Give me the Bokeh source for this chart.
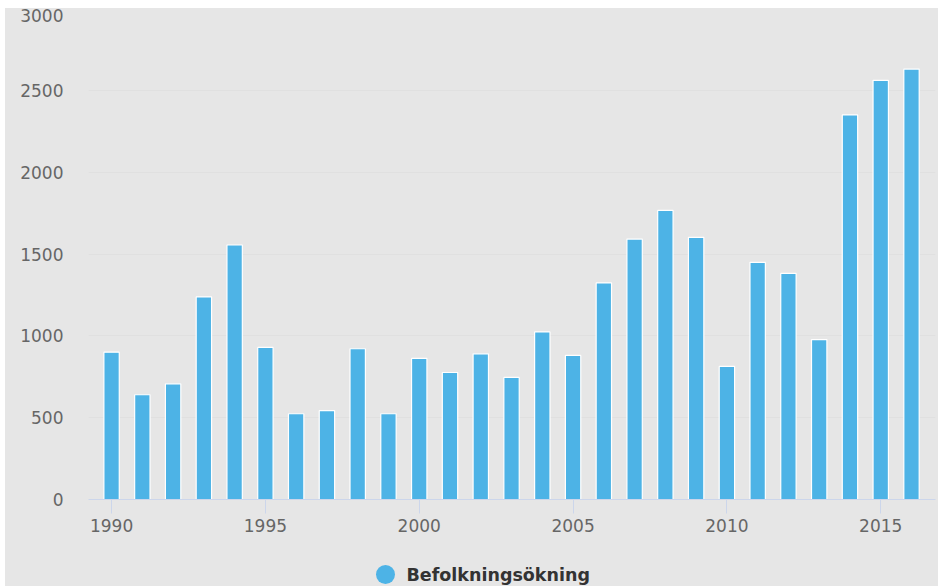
from bokeh.plotting import figure
from bokeh.models import ColumnDataSource, FixedTicker, Range1d
from bokeh.layouts import column
from bokeh.core.properties import value
from bokeh.embed import file_html
from bokeh.resources import INLINE

years = list(range(1990, 2017))
values = [900, 640, 707, 1238, 1555, 929, 524, 543, 921, 524,
          862, 776, 890, 746, 1024, 880, 1323, 1591, 1766, 1602,
          813, 1449, 1382, 977, 2350, 2561, 2630]
series_name = "Befolkningsökning"
y_ticks = [0, 500, 1000, 1500, 2000, 2500, 3000]
x_ticks = [1990, 1995, 2000, 2005, 2010, 2015]

BG = "#e6e6e6"
BAR = "#4db3e6"
W = 933
LEFT = 83
RIGHT = 3

p = figure(width=W, height=535, output_backend="svg", toolbar_location=None,
           x_range=Range1d(1989.25, 2016.78), y_range=Range1d(0, 3000),
           min_border_left=LEFT, min_border_right=RIGHT, min_border_top=0, min_border_bottom=44)
p.background_fill_color = None
p.border_fill_color = None
p.outline_line_color = None

src = ColumnDataSource(dict(x=years, top=values))
p.vbar(x="x", top="top", width=0.5, source=src, fill_color=BAR,
       line_color="white", line_width=1.2)

p.xgrid.grid_line_color = None
p.ygrid.grid_line_color = "#e0e0e0"
p.ygrid.ticker = FixedTicker(ticks=y_ticks)

p.yaxis.ticker = FixedTicker(ticks=y_ticks)
p.yaxis.axis_line_color = None
p.yaxis.major_tick_line_color = None
p.yaxis.minor_tick_line_color = None
p.yaxis.major_label_standoff = 19
p.yaxis.major_label_text_font = "DejaVu Sans"
p.yaxis.major_label_text_font_size = "17px"
p.yaxis.major_label_text_color = "#666666"

p.xaxis.ticker = FixedTicker(ticks=x_ticks)
p.xaxis.axis_line_color = "#ccd6eb"
p.xaxis.major_tick_line_color = "#ccd6eb"
p.xaxis.major_tick_out = 14
p.xaxis.major_tick_in = 0
p.xaxis.minor_tick_line_color = None
p.xaxis.major_label_standoff = 5
p.xaxis.major_label_text_font = "DejaVu Sans"
p.xaxis.major_label_text_font_size = "17px"
p.xaxis.major_label_text_color = "#666666"

# legend strip (frame aligned with main frame; x in canvas pixels)
LH = 43
leg = figure(width=W, height=LH, output_backend="svg", toolbar_location=None,
             x_range=Range1d(LEFT, W - RIGHT), y_range=Range1d(0, LH),
             min_border_left=LEFT, min_border_right=RIGHT,
             min_border_top=0, min_border_bottom=0)
leg.axis.visible = False
leg.grid.visible = False
leg.background_fill_color = None
leg.border_fill_color = None
leg.outline_line_color = None
leg.scatter(x=[380], y=[12], marker="circle", size=19, fill_color=BAR, line_color=None)
leg.text(x=[401], y=[12], text=[series_name], text_font=value("DejaVu Sans"),
         text_font_style="bold", text_font_size="17.5px", text_color="#333333",
         text_baseline="middle", text_align="left")

layout = column(p, leg, margin=(8, 0, 0, 5), spacing=0,
                styles={"background-color": BG})
open("out.html", "w").write(file_html(layout, INLINE))
